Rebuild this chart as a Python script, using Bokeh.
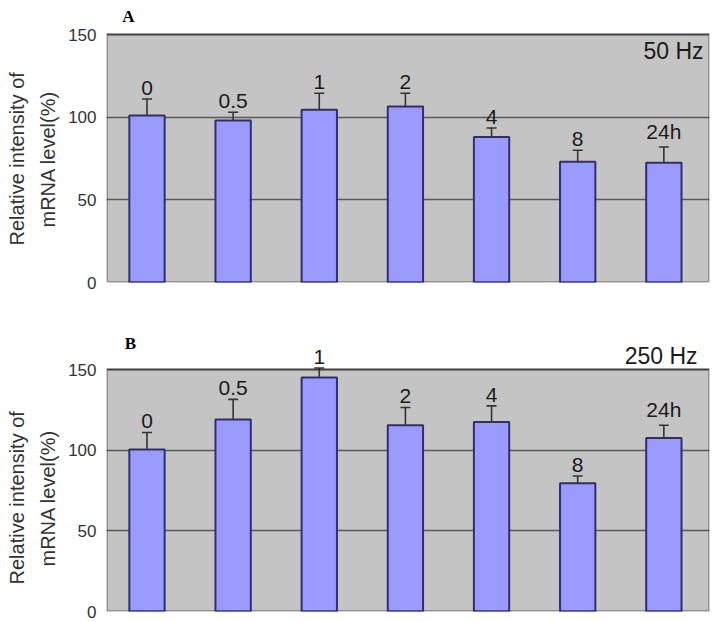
import numpy as np
from bokeh.plotting import figure
from bokeh.layouts import column
from bokeh.models import (ColumnDataSource, Range1d, FixedTicker, Whisker, TeeHead,
                          LabelSet, Label, BoxAnnotation, Title)
from bokeh.core.properties import value
from bokeh.embed import file_html
from bokeh.resources import INLINE

time_labels = ["0", "0.5", "1", "2", "4", "8", "24h"]
mean_50hz = [101, 98, 104.5, 106.5, 88, 73, 72.5]
err_50hz = [10, 5, 10, 8, 5.5, 7, 9.5]
mean_250hz = [100.5, 119, 145, 115.5, 117.5, 79.5, 107.5]
err_250hz = [10.5, 12.5, 6, 11, 10, 4.5, 8]
y_ticks = [0, 50, 100, 150]
y_max_data = 150
y_title_lines = ["Relative intensity of", "mRNA level(%)"]

FONT = "Liberation Sans"


def make_panel(means, errs, letter, freq, height, y_top, border_bottom,
               freq_x, freq_y, letter_x, letter_y, title_offsets):
    xs = [i + 0.5 for i in range(len(time_labels))]
    src = ColumnDataSource(dict(
        x=xs, top=means, upper=[m + e for m, e in zip(means, errs)], lab=time_labels))
    p = figure(width=712, height=height, output_backend="svg", toolbar_location=None,
               x_range=Range1d(0.03, 7.03), y_range=Range1d(0, y_top),
               min_border_left=106, min_border_right=3,
               min_border_top=0, min_border_bottom=border_bottom)
    p.background_fill_color = "white"
    p.border_fill_color = "white"
    p.outline_line_color = None
    p.xaxis.visible = False
    p.xgrid.visible = False
    p.ygrid.grid_line_color = "#5a5a5a"
    p.ygrid.grid_line_width = 1.3
    p.yaxis.ticker = FixedTicker(ticks=y_ticks)
    p.yaxis.axis_line_color = None
    p.yaxis.major_tick_line_color = None
    p.yaxis.minor_tick_line_color = None
    p.yaxis.major_tick_out = 0
    p.yaxis.major_label_standoff = 10
    p.yaxis.major_label_text_font = FONT
    p.yaxis.major_label_text_font_size = "17px"
    p.yaxis.major_label_text_color = "#333333"

    # two-line axis title, placed as left-side titles (inner line first)
    inner = Title(text=y_title_lines[1], align="left", offset=title_offsets[1],
                  text_font=FONT, text_font_size="20px", text_font_style="normal",
                  text_color="#333333", standoff=14)
    outer = Title(text=y_title_lines[0], align="left", offset=title_offsets[0],
                  text_font=FONT, text_font_size="20px", text_font_style="normal",
                  text_color="#333333", standoff=0)
    p.add_layout(inner, "left")
    p.add_layout(outer, "left")

    p.add_layout(BoxAnnotation(bottom=0, top=y_max_data, fill_color="#c4c4c4",
                               fill_alpha=1, line_color=None, level="image"))
    p.add_layout(BoxAnnotation(bottom=0, top=y_max_data, fill_alpha=0,
                               line_color="#1a1a1a", line_width=3, level="overlay"))

    p.vbar(x="x", top="top", width=0.41, bottom=0, source=src,
           fill_color="#9a9aff", line_color="#2e2e70", line_width=2)
    w = Whisker(base="x", lower="top", upper="upper", source=src,
                line_color="#333333", line_width=1.6,
                upper_head=TeeHead(size=10, line_color="#333333", line_width=1.6),
                lower_head=None)
    p.add_layout(w)
    labels = LabelSet(x="x", y="upper", text="lab", source=src, text_align="center",
                      text_baseline="bottom", y_offset=4, text_font=value(FONT),
                      text_font_size=value("21px"), text_color="#1a1a1a")
    p.add_layout(labels)
    p.add_layout(Label(x=freq_x, y=freq_y, x_units="screen", y_units="screen", text=freq,
                       text_align="right", text_baseline="middle", text_font=FONT,
                       text_font_size="23px", text_color="#1a1a1a"))
    p.add_layout(Label(x=letter_x, y=letter_y, x_units="screen", y_units="screen",
                       text=letter, text_align="center", text_baseline="middle",
                       text_font="Liberation Serif", text_font_style="bold",
                       text_font_size="17px", text_color="black"))
    return p


pa = make_panel(mean_50hz, err_50hz, "A", "50 Hz", 300, 170.6, 18, 597, 232, 22, 266,
                (37, 55))
pb = make_panel(mean_250hz, err_250hz, "B", "250 Hz", 320, 192.8, 9, 591, 256, 24, 268,
                (27, 45))

layout = column(pa, pb, spacing=0)
open("out.html", "w").write(file_html(layout, INLINE))
